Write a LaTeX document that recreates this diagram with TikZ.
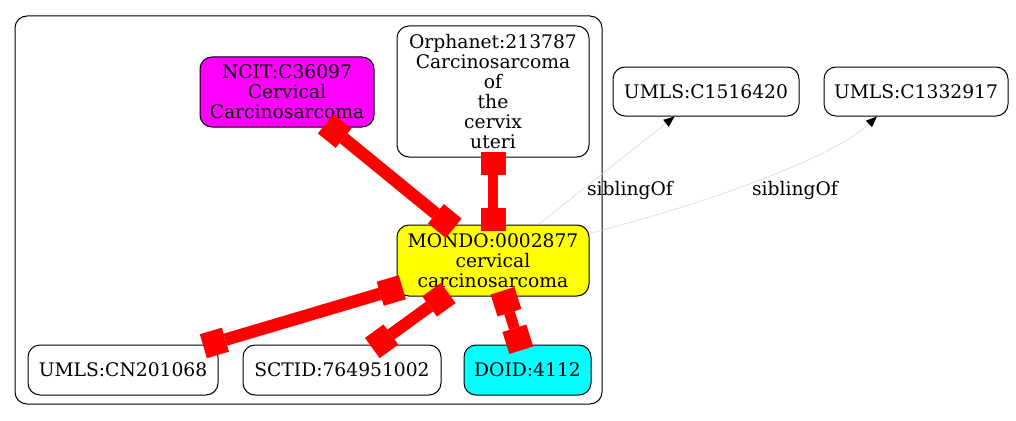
\documentclass[tikz,border=0pt]{standalone}
\usepackage{fontspec}
\setmainfont{DejaVu Serif}
\usetikzlibrary{arrows.meta,calc}
\definecolor{magentaX}{RGB}{255,0,255}
\definecolor{cyanX}{RGB}{0,255,255}
\definecolor{yellowX}{RGB}{255,255,0}
\definecolor{redX}{RGB}{255,0,0}
\definecolor{sibgray}{RGB}{215,215,215}
\begin{document}
\begin{tikzpicture}[x=1pt,y=-1pt,
  every node/.style={font=\fontsize{18.7}{20}\selectfont},
  box/.style={draw=black, line width=1pt, rounded corners=12pt, inner sep=0pt, align=center},
  edge/.style={draw=redX, line width=#1,
    {Square[length=23pt 0 0,width=25pt 0 0,line width=0pt]}-{Square[length=23pt 0 0,width=25pt 0 0,line width=0pt]},
    shorten <=-6pt, shorten >=-6pt},
  edge/.default=11pt,
  sib/.style={draw=sibgray, line width=0.6pt,
    -{Triangle[length=11pt 0 0,width=9pt 0 0,color=black,fill=black,line width=0pt]}},
  lbl/.style={inner sep=0pt}]
\useasboundingbox (0,0) rectangle (1016,420);
% cluster
\draw[line width=1pt, rounded corners=12pt] (15,16) rectangle (602,404);
% nodes
\node[box, fill=magentaX, minimum width=174pt, minimum height=70pt] (ncit) at (287,92) {NCIT:C36097\\Cervical\\Carcinosarcoma};
\node[box, minimum width=192pt, minimum height=131pt] (orph) at (493,91.5) {Orphanet:213787\\Carcinosarcoma\\of\\the\\cervix\\uteri};
\node[box, fill=yellowX, minimum width=192pt, minimum height=71pt] (mondo) at (493,260.5) {MONDO:0002877\\cervical\\carcinosarcoma};
\node[box, minimum width=186pt, minimum height=49pt] (umlsa) at (706,91.5) {UMLS:C1516420};
\node[box, minimum width=184pt, minimum height=49pt] (umlsb) at (916,91.5) {UMLS:C1332917};
\node[box, minimum width=190pt, minimum height=50pt] (cn) at (123,370) {UMLS:CN201068};
\node[box, minimum width=198pt, minimum height=50pt] (sct) at (342,370) {SCTID:764951002};
\node[box, fill=cyanX, minimum width=127pt, minimum height=50pt] (doid) at (527.5,370) {DOID:4112};
% red edges
\draw[edge=12.5pt] (ncit) -- (mondo);
\draw[edge=10pt] (orph) -- (mondo);
\draw[edge=12.5pt] (mondo) -- (cn);
\draw[edge=12pt] (mondo) -- (sct);
\draw[edge=11pt] (mondo) -- (doid);
% sibling edges
\draw[sib] (mondo) -- (umlsa);
\draw[sib] ($(mondo.east)+(0,-27)$) .. controls (700,205) and (830,160) .. ($(umlsb.south)+(-39,0)$);
\node[lbl] (l1) at (630,190) {siblingOf};
\node[lbl] (l2) at (795,190) {siblingOf};
\end{tikzpicture}
\end{document}
